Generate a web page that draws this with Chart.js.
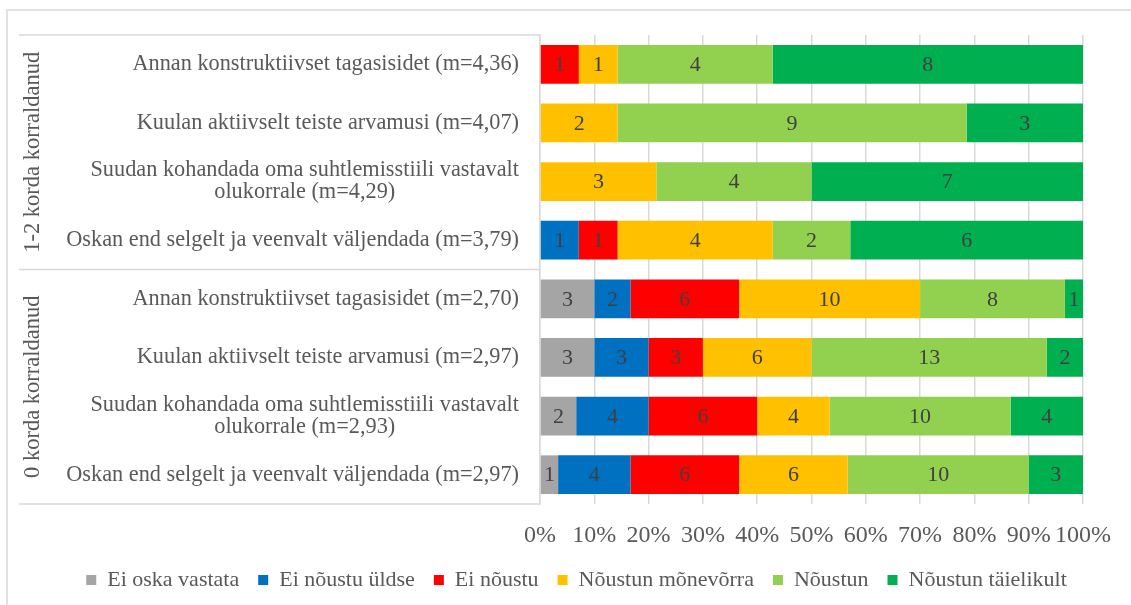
<!DOCTYPE html>
<html>
<head>
<meta charset="utf-8">
<script src="https://cdn.jsdelivr.net/npm/chart.js@4.4.1/dist/chart.umd.min.js"></script>
<style>
  html, body { margin: 0; padding: 0; background: #fff; }
  #wrap { width: 1131px; height: 605px; position: relative; }
</style>
</head>
<body>
<div id="wrap"><canvas id="chart1"></canvas></div>
<script>
// categories, top to bottom
const categories = [
    'Annan konstruktiivset tagasisidet (m=4,36)',
    'Kuulan aktiivselt teiste arvamusi (m=4,07)',
    ['Suudan kohandada oma suhtlemisstiili vastavalt', 'olukorrale (m=4,29)'],
    'Oskan end selgelt ja veenvalt väljendada (m=3,79)',
    'Annan konstruktiivset tagasisidet (m=2,70)',
    'Kuulan aktiivselt teiste arvamusi (m=2,97)',
    ['Suudan kohandada oma suhtlemisstiili vastavalt', 'olukorrale (m=2,93)'],
    'Oskan end selgelt ja veenvalt väljendada (m=2,97)'
];
const groups = ['1-2 korda korraldanud', '0 korda korraldanud'];
const groupSize = 4;

// answer counts per category
const eiOskaVastata = [0, 0, 0, 0, 3, 3, 2, 1];
const eiNoustuYldse = [0, 0, 0, 1, 2, 3, 4, 4];
const eiNoustu = [1, 0, 0, 1, 6, 3, 6, 6];
const noustunMonevorra = [1, 2, 3, 4, 10, 6, 4, 6];
const noustun = [4, 9, 4, 2, 8, 13, 10, 10];
const noustunTaielikult = [8, 3, 7, 6, 1, 2, 4, 3];

const seriesNames = ['Ei oska vastata', 'Ei nõustu üldse', 'Ei nõustu', 'Nõustun mõnevõrra', 'Nõustun', 'Nõustun täielikult'];
const seriesColors = ['#A5A5A5', '#0070C0', '#FF0000', '#FFC000', '#92D050', '#00B050'];
const seriesCounts = [eiOskaVastata, eiNoustuYldse, eiNoustu, noustunMonevorra, noustun, noustunTaielikult];

const xTicks = [0, 10, 20, 30, 40, 50, 60, 70, 80, 90, 100];

// row totals -> 100% stacking
const totals = categories.map((c, i) => seriesCounts.reduce((s, arr) => s + arr[i], 0));

const serif = '"Liberation Serif", "Times New Roman", serif';

const tablePlugin = {
    id: 'table',
    afterLayout(chart) {
        // legend sits a bit right of the centre in the original
        chart.legend.left += 35;
        chart.legend.right += 35;
    },
    beforeDraw(chart) {
        const ctx = chart.ctx;
        ctx.save();
        ctx.fillStyle = '#fff';
        ctx.fillRect(0, 0, chart.width, chart.height);
        // outer frame
        ctx.strokeStyle = '#e2e2e2';
        ctx.lineWidth = 2;
        ctx.beginPath();
        ctx.moveTo(7, chart.height);
        ctx.lineTo(7, 10);
        ctx.lineTo(chart.width, 10);
        ctx.stroke();
        ctx.restore();
    },
    afterDraw(chart) {
        const ctx = chart.ctx;
        const area = chart.chartArea;
        const yScale = chart.scales.y;
        ctx.save();
        // table lines left of the bars
        const mid = (yScale.getPixelForTick(groupSize - 1) + yScale.getPixelForTick(groupSize)) / 2;
        ctx.strokeStyle = '#d9d9d9';
        ctx.lineWidth = 1.5;
        ctx.beginPath();
        [area.top, mid, area.bottom].forEach(y => {
            ctx.moveTo(19, y);
            ctx.lineTo(area.left, y);
        });
        ctx.stroke();

        // category labels
        ctx.fillStyle = '#595959';
        ctx.font = '22.3px ' + serif;
        ctx.textBaseline = 'middle';
        const right = area.left - 21;
        categories.forEach((lab, i) => {
            const y = yScale.getPixelForTick(i);
            if (Array.isArray(lab)) {
                const w = ctx.measureText(lab[0]).width;
                const cx = right - w / 2;
                ctx.textAlign = 'center';
                lab.forEach((line, j) => {
                    ctx.fillText(line, cx, y + (j - (lab.length - 1) / 2) * 22);
                });
            } else {
                ctx.textAlign = 'right';
                ctx.fillText(lab, right, y);
            }
        });

        // group labels, rotated
        ctx.font = '22.5px ' + serif;
        groups.forEach((g, k) => {
            const y0 = k === 0 ? area.top : mid;
            const y1 = k === 0 ? mid : area.bottom;
            ctx.save();
            ctx.translate(33.5, (y0 + y1) / 2);
            ctx.rotate(-Math.PI / 2);
            ctx.textAlign = 'center';
            ctx.fillText(g, 0, 0);
            ctx.restore();
        });

        // value labels inside segments
        ctx.font = '22px ' + serif;
        ctx.fillStyle = '#404040';
        ctx.textAlign = 'center';
        chart.data.datasets.forEach((ds, di) => {
            const meta = chart.getDatasetMeta(di);
            meta.data.forEach((bar, i) => {
                const n = seriesCounts[di][i];
                if (!n) return;
                ctx.fillText(String(n), (bar.x + bar.base) / 2, bar.y + 1);
            });
        });
        ctx.restore();
    }
};

const ctx = document.getElementById('chart1');
new Chart(ctx, {
    type: 'bar',
    data: {
        labels: categories,
        datasets: seriesNames.map((name, k) => ({
            label: name,
            data: seriesCounts[k].map((v, i) => v / totals[i] * 100),
            backgroundColor: seriesColors[k],
            borderWidth: 0,
            categoryPercentage: 1,
            barPercentage: 0.66
        }))
    },
    options: {
        indexAxis: 'y',
        responsive: true,
        maintainAspectRatio: false,
        animation: false,
        devicePixelRatio: 1,
        layout: { padding: { top: 35, right: 48, left: 0, bottom: 4 } },
        scales: {
            x: {
                stacked: true,
                min: 0,
                max: 100,
                afterBuildTicks: s => { s.ticks = xTicks.map(v => ({ value: v })); },
                afterFit: s => { s.height = 46; },
                grid: { color: '#d9d9d9', lineWidth: 1.5, drawTicks: false },
                border: { display: false },
                ticks: {
                    padding: 17,
                    maxRotation: 0,
                    minRotation: 0,
                    autoSkip: false,
                    color: '#595959',
                    font: { family: serif, size: 24 },
                    callback: v => v + '%'
                }
            },
            y: {
                stacked: true,
                afterFit: s => { s.width = 540; },
                grid: { display: false },
                border: { display: true, color: '#d9d9d9', width: 1.5 },
                ticks: { display: false }
            }
        },
        plugins: {
            legend: {
                position: 'bottom',
                labels: {
                    boxWidth: 10,
                    boxHeight: 10,
                    padding: 19,
                    color: '#595959',
                    font: { family: serif, size: 22 }
                }
            },
            tooltip: { enabled: false }
        }
    },
    plugins: [tablePlugin]
});
</script>
</body>
</html>
